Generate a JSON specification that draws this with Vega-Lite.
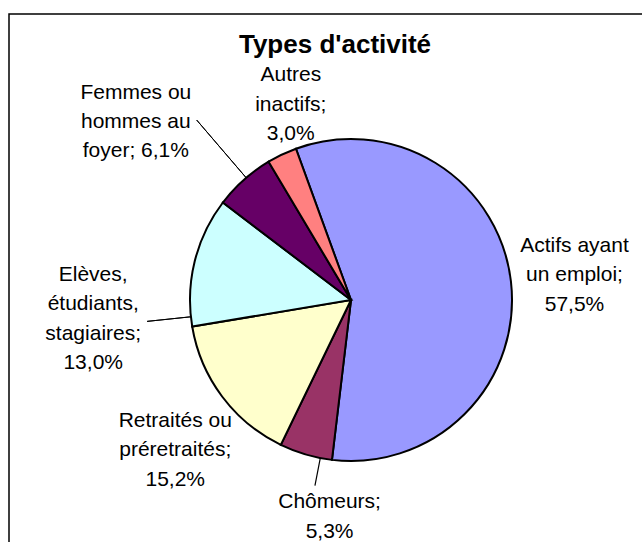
{
  "$schema": "https://vega.github.io/schema/vega-lite/v6.json",
  "width": 684,
  "height": 572,
  "autosize": {"type": "none"},
  "padding": {"left": 9, "top": 14, "right": 0, "bottom": 0},
  "background": "white",
  "view": {"stroke": "black", "strokeWidth": 1.5, "fill": "white"},
  "title": {
    "text": "Types d'activité",
    "font": "Liberation Sans",
    "fontSize": 26,
    "fontWeight": "bold",
    "color": "black",
    "anchor": "middle",
    "frame": "group",
    "baseline": "alphabetic",
    "offset": 0,
    "dy": 65,
    "dx": -16
  },
  "data": {
    "values": [
      {"rang": 1, "categorie": "Actifs ayant un emploi", "part": 57.5, "etiquette": "Actifs ayant\nun emploi;\n57,5%"},
      {"rang": 2, "categorie": "Chômeurs", "part": 5.3, "etiquette": "Chômeurs;\n5,3%"},
      {"rang": 3, "categorie": "Retraités ou préretraités", "part": 15.2, "etiquette": "Retraités ou\npréretraités;\n15,2%"},
      {"rang": 4, "categorie": "Elèves, étudiants, stagiaires", "part": 13.0, "etiquette": "Elèves,\nétudiants,\nstagiaires;\n13,0%"},
      {"rang": 5, "categorie": "Femmes ou hommes au foyer", "part": 6.1, "etiquette": "Femmes ou\nhommes au\nfoyer; 6,1%"},
      {"rang": 6, "categorie": "Autres inactifs", "part": 3.0, "etiquette": "Autres\ninactifs;\n3,0%"}
    ]
  },
  "encoding": {
    "theta": {"field": "part", "type": "quantitative", "stack": true, "scale": {"range": [-0.3491, 5.9341]}},
    "order": {"field": "rang", "type": "ordinal"},
    "detail": {"field": "categorie", "type": "nominal"}
  },
  "layer": [
    {
      "mark": {"type": "arc", "outerRadius": 161, "stroke": "black", "strokeWidth": 2},
      "encoding": {
        "color": {
          "field": "categorie",
          "type": "nominal",
          "legend": null,
          "scale": {
            "domain": ["Actifs ayant un emploi", "Chômeurs", "Retraités ou préretraités", "Elèves, étudiants, stagiaires", "Femmes ou hommes au foyer", "Autres inactifs"],
            "range": ["#9999FF", "#993366", "#FFFFCC", "#CCFFFF", "#660066", "#FF8080"]
          }
        }
      }
    },
    {
      "mark": {"type": "arc", "radius": 237, "radius2": 161, "padAngle": 3.1416, "thetaOffset": 0.02, "theta2Offset": 0.02, "fill": "transparent", "stroke": "black", "strokeWidth": 1},
      "encoding": {"strokeOpacity": {"condition": {"test": "datum.rang === 5", "value": 1}, "value": 0}}
    },
    {
      "mark": {"type": "arc", "radius": 205, "radius2": 161, "padAngle": 3.1416, "thetaOffset": -0.347, "theta2Offset": -0.347, "fill": "transparent", "stroke": "black", "strokeWidth": 1},
      "encoding": {"strokeOpacity": {"condition": {"test": "datum.rang === 4", "value": 1}, "value": 0}}
    },
    {
      "mark": {"type": "arc", "radius": 189, "radius2": 161, "padAngle": 3.1416, "thetaOffset": -0.0929, "theta2Offset": -0.0929, "fill": "transparent", "stroke": "black", "strokeWidth": 1.2},
      "encoding": {"strokeOpacity": {"condition": {"test": "datum.rang === 2", "value": 1}, "value": 0}}
    },
    {
      "mark": {"type": "text", "radius": 225, "dx": 0, "dy": -28, "font": "Liberation Sans", "fontSize": 21, "lineHeight": 29.3, "lineBreak": "\n", "align": "center", "baseline": "middle", "color": "black"},
      "encoding": {"text": {"condition": {"test": "datum.rang === 1", "field": "etiquette", "type": "nominal"}, "value": ""}}
    },
    {
      "mark": {"type": "text", "radius": 215, "dx": 39, "dy": -4, "font": "Liberation Sans", "fontSize": 21, "lineHeight": 29.3, "lineBreak": "\n", "align": "center", "baseline": "middle", "color": "black"},
      "encoding": {"text": {"condition": {"test": "datum.rang === 2", "field": "etiquette", "type": "nominal"}, "value": ""}}
    },
    {
      "mark": {"type": "text", "radius": 232, "dx": 10, "dy": -18, "font": "Liberation Sans", "fontSize": 21, "lineHeight": 29.3, "lineBreak": "\n", "align": "center", "baseline": "middle", "color": "black"},
      "encoding": {"text": {"condition": {"test": "datum.rang === 3", "field": "etiquette", "type": "nominal"}, "value": ""}}
    },
    {
      "mark": {"type": "text", "radius": 246, "dx": -19, "dy": 34, "font": "Liberation Sans", "fontSize": 21, "lineHeight": 29.3, "lineBreak": "\n", "align": "center", "baseline": "middle", "color": "black"},
      "encoding": {"text": {"condition": {"test": "datum.rang === 4", "field": "etiquette", "type": "nominal"}, "value": ""}}
    },
    {
      "mark": {"type": "text", "radius": 275, "dx": -32, "dy": -2, "font": "Liberation Sans", "fontSize": 21, "lineHeight": 29.3, "lineBreak": "\n", "align": "center", "baseline": "middle", "color": "black"},
      "encoding": {"text": {"condition": {"test": "datum.rang === 5", "field": "etiquette", "type": "nominal"}, "value": ""}}
    },
    {
      "mark": {"type": "text", "radius": 201, "dx": 26, "dy": -43, "font": "Liberation Sans", "fontSize": 21, "lineHeight": 29.3, "lineBreak": "\n", "align": "center", "baseline": "middle", "color": "black"},
      "encoding": {"text": {"condition": {"test": "datum.rang === 6", "field": "etiquette", "type": "nominal"}, "value": ""}}
    }
  ]
}
